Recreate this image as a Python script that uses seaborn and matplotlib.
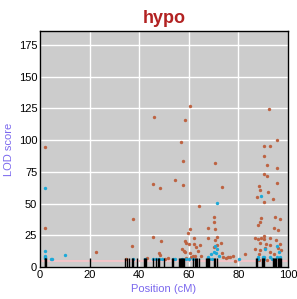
import matplotlib
matplotlib.use("Agg")
import matplotlib.pyplot as plt
import numpy as np
import pandas as pd
import seaborn as sns

# LOD scores (position cM, LOD)
brown_x = [2.0, 2.1, 37.3, 36.9, 22.7, 34.6,
           45.7, 48.3, 54.6, 57.7, 64.3, 70.0, 70.0, 60.5, 59.7, 67.9, 67.9, 45.7, 48.7, 62.0,
           58.3, 59.0, 62.0, 60.0, 64.4, 63.0, 63.7, 57.3, 58.0, 58.3, 48.0, 48.3, 60.4, 61.5,
           62.5, 61.0, 65.0, 70.0, 43.3, 51.8, 50.3, 59.0,
           95.4, 90.4, 92.7, 90.4, 91.6, 95.4, 70.4, 90.4, 91.5, 95.5, 88.5, 88.9, 92.1, 87.7,
           94.0, 90.4, 73.3, 71.5, 70.4,
           89.2, 94.7, 96.7, 88.7, 87.9, 94.2, 95.9, 86.8, 88.0, 89.3, 90.5, 90.5, 92.8, 95.0,
           96.7, 88.7, 91.1, 92.6, 95.8, 97.0, 86.8, 88.8, 90.8, 92.7, 94.3, 88.4, 70.7, 71.2,
           73.1, 73.4, 73.9, 75.1, 76.0, 76.8, 77.8, 78.8, 82.5,
           60.6, 45.8, 58.4, 57.0, 57.7, 92.3, 88.5, 91.5, 96.5]
brown_y = [95, 31, 38, 16.8, 12, 6,
           65.7, 62.6, 68.9, 65, 48.4, 39.2, 35.5, 30.2, 26.6, 30.5, 23.1, 23.9, 20.8, 22.6,
           20.8, 18.9, 18.1, 18.1, 17.6, 15.5, 12.9, 14.2, 12.6, 11.6, 10.8, 9.2, 11.3, 8.7,
           9.0, 7.5, 8.7, 15.5, 6.9, 6.9, 6.0, 6.9,
           100.4, 95.2, 95.2, 87.3, 80.2, 78.3, 82.3, 73.1, 72, 66, 64.2, 60.8, 59.4, 55.5,
           53.9, 51.5, 63.4, 23.9, 29.7,
           38.9, 39.7, 38.1, 35.3, 33.1, 31, 29.4, 23.1, 22.3, 23.1, 24.5, 22.3, 23.1, 21.3,
           18.4, 18.7, 18.1, 17.4, 14.8, 13.4, 14.4, 13.4, 14.8, 11.8, 10.3, 10.3, 21.3, 17.4,
           18.7, 10.8, 8.1, 6.9, 7.7, 8.1, 8.7, 5.0, 10.3,
           126.8, 118.6, 116.2, 98.9, 83.9, 124.9, 5.5, 5.2, 5.5]

blue_x = [1.9, 2.1, 2.0, 2.0, 2.2, 4.4, 4.9, 10.0, 37.4, 42.5,
          70.0, 69.0, 67.7, 45.5, 46.7, 47.8, 49.2, 53.6, 54.6, 57.3, 59.0, 60.0, 61.7, 68.0, 69.5,
          89.2, 71.4, 90.7, 95.5, 96.2, 70.7, 71.5, 70.9, 72.0, 80.1, 88.1, 90.5, 92.9, 95.6,
          96.6, 89.8, 87.8, 90.5, 93.5]
blue_y = [62.6, 12.9, 9, 8, 7, 6, 6, 9.2, 6, 6,
          12, 10.3, 7.7, 6, 6, 6, 6, 6, 6, 6, 6, 6, 6, 6, 6.5,
          56.3, 50.3, 14.2, 16.6, 11.8, 16.6, 14, 10.8, 8.7, 6.1, 8, 8, 8, 8,
          8, 8, 6, 6, 6]

# marker positions (rug)
markers = [1.9, 2.2, 2.5, 20.3, 34.4, 35.0, 36.0, 37.2, 37.6, 39.3, 41.8, 42.2, 42.6,
           45.6, 46.8, 47.6, 48.0, 50.0, 53.4, 53.8, 56.0, 56.4, 57.0, 57.4, 57.8, 58.2,
           61.8, 62.3, 62.8, 63.3, 64.0, 66.8, 67.2, 67.8, 68.2, 70.0, 70.6, 71.2,
           87.2, 87.6, 89.5, 90.0, 90.5, 93.8, 94.3, 94.8, 95.3, 95.8, 96.3, 96.8, 97.2]

threshold = 5.0

sns.set_theme(style="darkgrid", rc={"axes.facecolor": "#cccccc",
                                    "grid.color": "white",
                                    "grid.linewidth": 1.0,
                                    "axes.edgecolor": "black"})
plt.rcParams['font.family'] = ['Liberation Sans', 'DejaVu Sans']

fig = plt.figure(figsize=(2.97, 2.99), dpi=100)
ax = fig.add_axes([0.1347, 0.107, 0.835, 0.789])

ax.axhline(threshold, color="#f2c4c8", lw=1.5, zorder=1)

df_b = pd.DataFrame({"pos": brown_x, "lod": brown_y})
df_l = pd.DataFrame({"pos": blue_x, "lod": blue_y})
sns.scatterplot(data=df_b, x="pos", y="lod", color="#bd6342", marker="o", s=6,
                linewidth=0, ax=ax, zorder=3)
sns.scatterplot(data=df_l, x="pos", y="lod", color="#1ca9d8", marker="o", s=6,
                linewidth=0, ax=ax, zorder=4)
sns.rugplot(x=markers, height=0.04, color="black", lw=1.6, ax=ax, zorder=5)

ax.set_xlim(0, 100)
ax.set_ylim(0, 186)
ax.set_xticks([0, 20, 40, 60, 80, 100])
ax.set_yticks([0, 25, 50, 75, 100, 125, 150, 175])
ax.tick_params(labelsize=8, length=0, pad=2, colors="black")
for sp in ax.spines.values():
    sp.set_visible(True)
    sp.set_color("black")
    sp.set_linewidth(1.0)

ax.set_xlabel("Position (cM)", color="#7B68EE", fontsize=8, labelpad=3)
ax.set_ylabel("LOD score", color="#7B68EE", fontsize=8, labelpad=3)
ax.set_title("hypo", color="#b22222", fontsize=13, fontweight="bold", pad=6)

fig.savefig("out.png", dpi=100)
